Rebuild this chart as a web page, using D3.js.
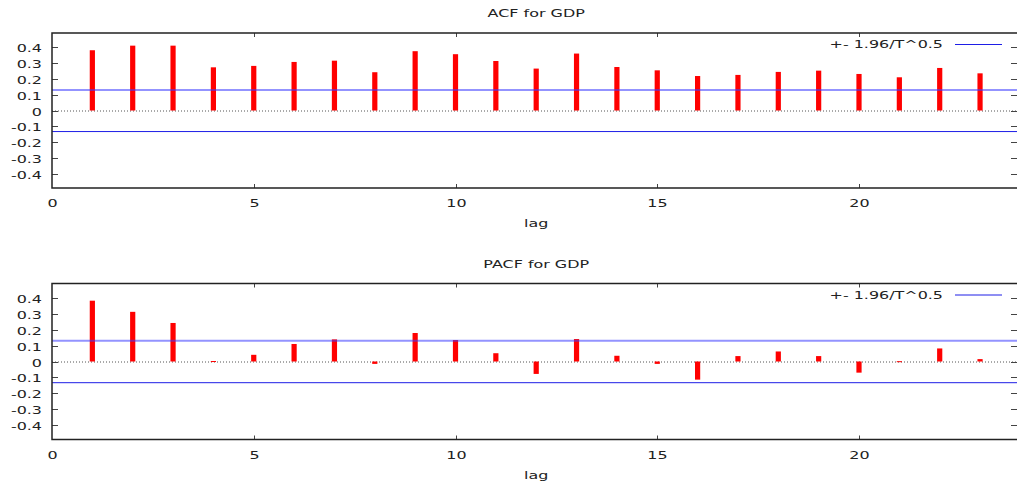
<!DOCTYPE html>
<html>
<head>
<meta charset="utf-8">
<script src="https://cdn.jsdelivr.net/npm/d3@7"></script>
<style>
  body { margin: 0; background: #fff; }
  svg { display: block; }
  text { font-family: "DejaVu Sans", sans-serif; font-size: 11px; fill: #222; }
</style>
</head>
<body>
<div id="chart"></div>
<script>
// lags 1..23
const lags = d3.range(1, 24)
const acfValues = [0.381, 0.41, 0.41, 0.273, 0.282, 0.307, 0.315, 0.242, 0.375, 0.356, 0.313, 0.265,
  0.36, 0.275, 0.254, 0.218, 0.225, 0.244, 0.252, 0.231, 0.21, 0.269, 0.235]
const pacfValues = [0.382, 0.312, 0.242, 0.003, 0.042, 0.11, 0.139, -0.015, 0.179, 0.135, 0.052, -0.078,
  0.141, 0.036, -0.015, -0.114, 0.034, 0.063, 0.034, -0.07, 0.002, 0.082, 0.015]
const band = 0.13 // 1.96/T^0.5
const yTicks = [0.4, 0.3, 0.2, 0.1, 0, -0.1, -0.2, -0.3, -0.4]
const xTicks = [0, 5, 10, 15, 20]
const titles = ['ACF for GDP', 'PACF for GDP']
const legendLabel = '+- 1.96/T^0.5'

const W = 1017
const H = 484
const stretch = 1.45 // gnuplot font looks wide

const svg = d3.select('#chart').append('svg')
  .attr('width', W)
  .attr('height', H)

const x = d3.scaleLinear().domain([0, 24]).range([52, 1020.4])

// put a horizontally stretched label
function label (g, str, px, py, anchor) {
  g.append('text')
    .attr('transform', `translate(${px},${py}) scale(${stretch},1)`)
    .attr('text-anchor', anchor || 'middle')
    .text(str)
}

function panel (top, bottom, values, title) {
  const g = svg.append('g')
  const y = d3.scaleLinear().domain([-0.49, 0.49]).range([bottom, top])
  const midX = (x.range()[0] + x.range()[1]) / 2

  label(g, title, midX, top - 16)

  // zero line
  g.append('line')
    .attr('x1', x(0)).attr('x2', W)
    .attr('y1', y(0) + 0.5).attr('y2', y(0) + 0.5)
    .style('stroke', '#555')
    .style('stroke-dasharray', '1,2')

  // bars
  g.selectAll('rect.bar')
    .data(values)
    .enter()
    .append('rect')
    .attr('class', 'bar')
    .attr('x', (d, i) => x(lags[i]) - 2.6)
    .attr('width', 5.2)
    .attr('y', d => y(Math.max(0, d)))
    .attr('height', d => Math.max(1, Math.abs(y(d) - y(0))))
    .style('fill', '#ff0000')

  // confidence lines
  g.append('line')
    .attr('x1', x(0)).attr('x2', W)
    .attr('y1', y(band)).attr('y2', y(band))
    .style('stroke', '#3a3aff')
    .style('stroke-opacity', 0.55)
    .style('stroke-width', 2)
  g.append('line')
    .attr('x1', x(0)).attr('x2', W)
    .attr('y1', y(-band) + 0.5).attr('y2', y(-band) + 0.5)
    .style('stroke', '#1e1ee6')
    .style('stroke-width', 1)

  // y ticks, inward on both sides
  yTicks.forEach(t => {
    const ty = Math.round(y(t)) + 0.5
    g.append('line').attr('x1', x(0)).attr('x2', x(0) + 6).attr('y1', ty).attr('y2', ty)
      .style('stroke', '#444')
    g.append('line').attr('x1', 1011).attr('x2', 1017).attr('y1', ty).attr('y2', ty)
      .style('stroke', '#444')
    label(g, String(t), 42, ty + 4, 'end')
  })

  // x ticks, inward top and bottom
  xTicks.forEach(t => {
    const tx = Math.round(x(t)) + 0.5
    if (t > 0) {
      g.append('line').attr('x1', tx).attr('x2', tx).attr('y1', top).attr('y2', top + 4)
        .style('stroke', '#444')
      g.append('line').attr('x1', tx).attr('x2', tx).attr('y1', bottom).attr('y2', bottom - 4)
        .style('stroke', '#444')
    }
    label(g, String(t), tx, bottom + 19)
  })
  label(g, 'lag', midX, bottom + 39)

  // frame: left, top, bottom
  g.append('path')
    .attr('d', `M${W},${top}H${x(0)}V${bottom}H${W}`)
    .style('fill', 'none')
    .style('stroke', '#222')
    .style('stroke-width', 1.5)

  // legend
  label(g, legendLabel, 943, top + 15, 'end')
  g.append('line')
    .attr('x1', 955).attr('x2', 1002)
    .attr('y1', top + 11.5).attr('y2', top + 11.5)
    .style('stroke', '#1e1ee6')
}

panel(33, 188, acfValues, titles[0])
panel(283.5, 439.5, pacfValues, titles[1])
</script>
</body>
</html>
